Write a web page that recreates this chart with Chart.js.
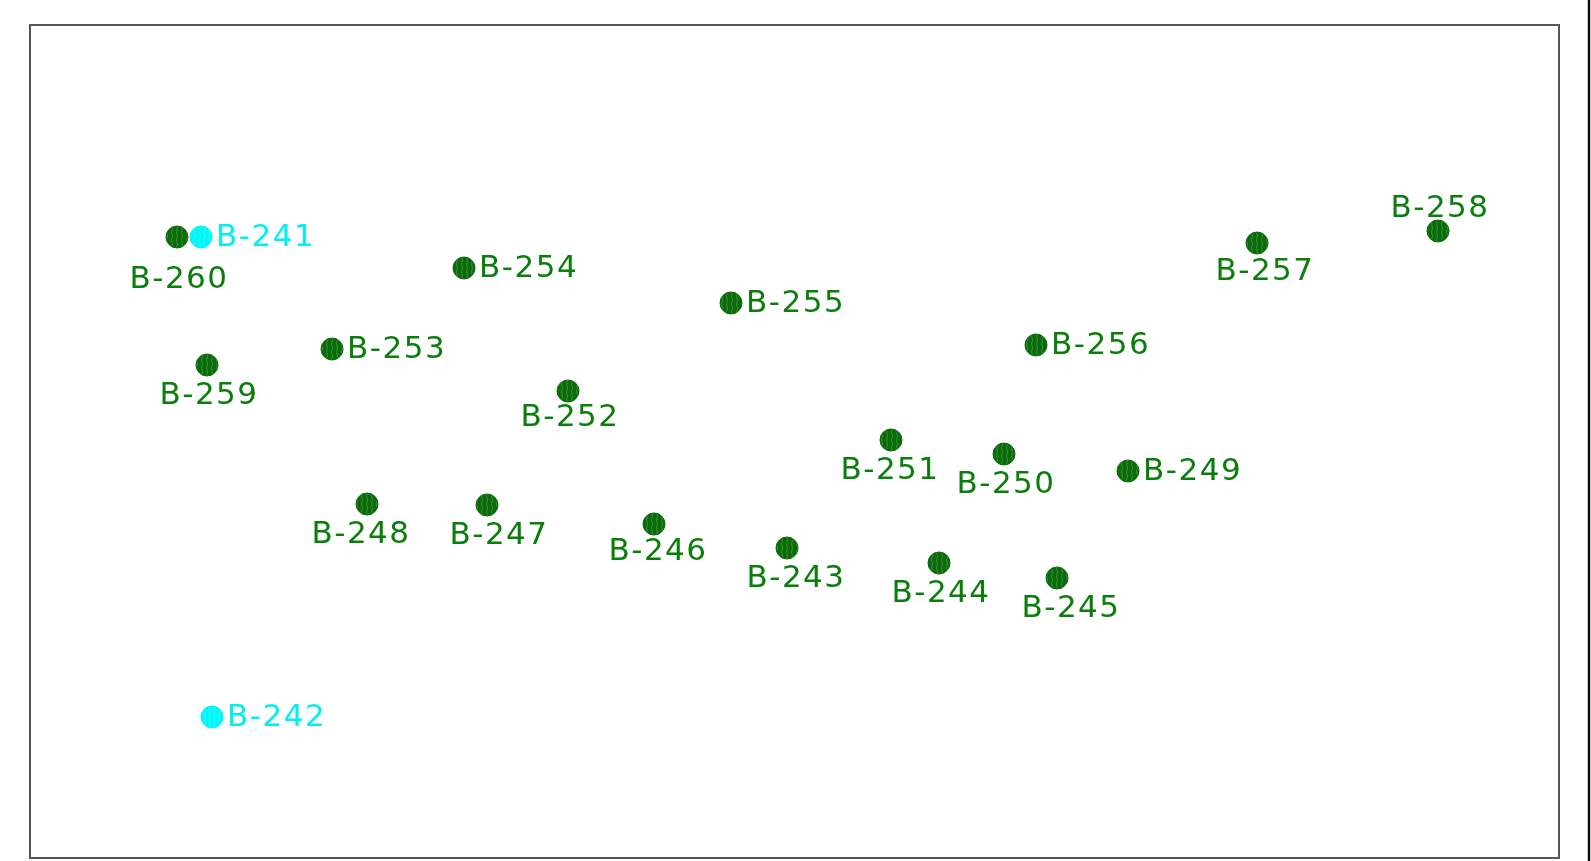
<!DOCTYPE html>
<html>
<head>
<meta charset="utf-8">
<script src="https://cdn.jsdelivr.net/npm/chart.js@4/dist/chart.umd.min.js"></script>
<style>
  html, body { margin: 0; padding: 0; background: #fff; }
  #wrap { width: 1591px; height: 861px; }
  canvas { display: block; }
</style>
</head>
<body>
<div id="wrap"><canvas id="map" width="1591" height="861"></canvas></div>
<script>
// borehole ids and plan coordinates (x east, y north, arbitrary site units)
const boreNames = ["B-243", "B-244", "B-245", "B-246", "B-247", "B-248", "B-249", "B-250", "B-251",
  "B-252", "B-253", "B-254", "B-255", "B-256", "B-257", "B-258", "B-259", "B-260"];
const boreX = [757, 909, 1027, 624, 457, 337, 1098, 974, 861, 538, 302, 434, 701, 1006, 1227, 1408, 177, 147];
const boreY = [310, 295, 280, 334, 353, 354, 387, 404, 418, 467, 509, 590, 555, 513, 615, 627, 493, 621];

// the two highlighted holes
const newNames = ["B-241", "B-242"];
const newX = [171, 182];
const newY = [621, 141];

// where each tag sits relative to its dot
const tagSide = {
  "B-241": "right", "B-242": "right", "B-253": "right", "B-254": "right", "B-255": "right",
  "B-256": "right", "B-249": "right", "B-258": "above",
};
const tagNudge = {
  "B-260": [0, 12], "B-248": [-8, 0], "B-247": [10, 0], "B-243": [7, 0], "B-245": [12, 0],
  "B-257": [6, -2], "B-251": [-3, 0], "B-252": [0, -4], "B-246": [2, -3],
};

function hatch(base, line) {
  const c = document.createElement("canvas");
  c.width = 5;
  c.height = 8;
  const g = c.getContext("2d");
  g.fillStyle = base;
  g.fillRect(0, 0, 5, 8);
  g.strokeStyle = line;
  g.lineWidth = 0.8;
  g.beginPath();
  g.moveTo(1.5, 0);
  g.quadraticCurveTo(3.5, 4, 1.5, 8);
  g.stroke();
  return g.createPattern(c, "repeat");
}

const toPts = (xs, ys) => xs.map((x, i) => ({ x, y: ys[i] }));

const framePlugin = {
  id: "frame",
  afterDraw(chart) {
    const { ctx, chartArea: a } = chart;
    ctx.save();
    ctx.strokeStyle = "#555";
    ctx.lineWidth = 2;
    ctx.strokeRect(a.left, a.top, a.right - a.left, a.bottom - a.top);
    ctx.strokeStyle = "#111";
    ctx.lineWidth = 2.5;
    ctx.beginPath();
    ctx.moveTo(chart.width - 2, 0);
    ctx.lineTo(chart.width - 2, chart.height);
    ctx.stroke();
    ctx.restore();
  },
};

const tagPlugin = {
  id: "tags",
  afterDatasetsDraw(chart) {
    const { ctx } = chart;
    ctx.save();
    ctx.font = "31px 'DejaVu Sans', sans-serif";
    ctx.letterSpacing = "1.5px";
    ctx.textBaseline = "middle";
    chart.data.datasets.forEach((ds, di) => {
      const meta = chart.getDatasetMeta(di);
      ctx.fillStyle = ds.tagColor;
      meta.data.forEach((pt, i) => {
        const name = ds.names[i];
        const side = tagSide[name] || "below";
        const [nx, ny] = tagNudge[name] || [0, 0];
        if (side === "right") {
          ctx.textAlign = "left";
          ctx.fillText(name, pt.x + 15 + nx, pt.y + 1 + ny);
        } else if (side === "above") {
          ctx.textAlign = "center";
          ctx.fillText(name, pt.x + 2 + nx, pt.y - 22 + ny);
        } else {
          ctx.textAlign = "center";
          ctx.fillText(name, pt.x + 2 + nx, pt.y + 31 + ny);
        }
      });
    });
    ctx.restore();
  },
};

new Chart(document.getElementById("map"), {
  type: "scatter",
  data: {
    datasets: [
      {
        label: "existing",
        names: boreNames,
        tagColor: "#0a7d0a",
        data: toPts(boreX, boreY),
        pointRadius: 11,
        pointHoverRadius: 11,
        pointBackgroundColor: hatch("#0b6b0b", "#3f9a3f"),
        pointBorderColor: "#0a6a0a",
        pointBorderWidth: 1,
      },
      {
        label: "new",
        names: newNames,
        tagColor: "#00f0f0",
        data: toPts(newX, newY),
        pointRadius: 11,
        pointHoverRadius: 11,
        pointBackgroundColor: hatch("#00ffff", "#22d8e0"),
        pointBorderColor: "#00f4f4",
        pointBorderWidth: 1,
      },
    ],
  },
  options: {
    responsive: false,
    devicePixelRatio: 1,
    animation: false,
    layout: { autoPadding: false, padding: { left: 30, top: 25, right: 32, bottom: 3 } },
    plugins: { legend: { display: false }, tooltip: { enabled: false } },
    scales: {
      x: { type: "linear", min: 0, max: 1529, display: false },
      y: { type: "linear", min: 0, max: 833, display: false },
    },
  },
  plugins: [framePlugin, tagPlugin],
});
</script>
</body>
</html>
